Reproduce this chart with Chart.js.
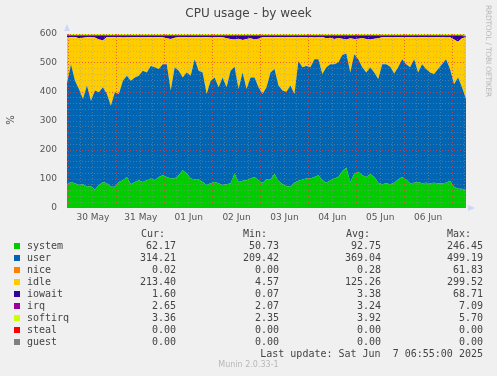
<!DOCTYPE html>
<html><head><meta charset="utf-8">
<script src="https://cdn.jsdelivr.net/npm/chart.js@4/dist/chart.umd.min.js"></script>
<style>
html,body{margin:0;padding:0;background:#f0f0f0;}
#wrap{position:relative;width:497px;height:376px;overflow:hidden;font-family:"DejaVu Sans",sans-serif;}
#box{position:absolute;left:0;top:0;width:497px;height:230px;}
.t{position:absolute;white-space:pre;line-height:12px;}
.m{font-family:"DejaVu Sans Mono",monospace;font-size:10px;color:#444;}
.r{text-align:right;}
.sq{position:absolute;width:6px;height:6px;}
</style></head>
<body><div id="wrap">
<div id="box"><canvas id="c"></canvas></div>
<div class="t" style="left:0;width:497px;top:6px;text-align:center;font-size:12px;line-height:14px;color:#444;">CPU usage - by week</div>
<div class="t" style="left:4px;top:114px;width:14px;text-align:center;font-size:10px;color:#555;transform:rotate(-90deg);">%</div>
<div class="t" style="left:438px;top:47px;width:100px;text-align:center;font-size:7.5px;line-height:8px;letter-spacing:-0.2px;color:#b8b8b8;transform:rotate(90deg);">RRDTOOL / TOBI OETIKER</div>
<div id="legend"></div>
</div>
<script>
// Series values, every 2 hours starting 29 May 23:00 (last = 7 Jun 07:00)
const system = [82,90,85,79,82,73,75,64,79,90,85,73,73,90,96,107,82,90,96,90,96,102,96,107,113,
  107,102,102,113,130,119,102,98,98,90,79,85,90,85,79,82,85,119,90,94,96,102,107,96,87,
  98,98,117,94,82,75,73,87,94,98,102,102,107,113,96,87,96,102,107,128,139,90,119,125,113,
  107,117,107,87,82,85,82,87,98,107,98,85,87,90,85,87,85,87,85,85,87,94,73,66,66,62];
const user = [348,406,354,331,294,349,295,341,320,326,308,280,326,303,343,349,357,360,360,383,371,388,389,372,383,
  389,303,383,360,320,348,354,415,375,377,314,354,360,331,371,334,388,368,320,373,314,348,343,320,306,
  318,369,362,328,323,326,349,306,413,387,388,383,406,400,366,398,400,394,395,400,394,377,411,388,372,
  360,368,360,358,414,411,405,377,387,406,398,400,426,377,411,392,382,375,394,411,426,385,354,384,350,314];
const idle = [160,93,151,175,211,167,220,183,182,162,197,236,191,197,149,133,151,140,133,117,123,99,105,111,93,
  89,178,102,117,140,122,134,77,117,122,197,149,140,174,139,169,110,94,174,112,173,135,131,168,196,
  174,123,110,168,185,189,167,197,83,104,100,105,75,76,128,100,91,87,84,56,48,118,53,71,101,
  116,96,117,140,93,94,103,125,105,77,94,104,77,123,93,111,123,128,110,94,75,110,154,123,169,213];
const iowait = [3,4,3,8,6,4,3,5,12,15,3,4,3,3,5,4,3,3,4,3,3,4,3,3,4,
  8,10,6,3,3,4,3,3,3,4,3,5,3,3,4,8,10,12,9,14,10,8,12,9,4,
  3,3,4,3,3,3,4,3,3,4,3,3,5,4,3,8,6,10,7,9,12,8,10,9,7,
  10,12,9,8,4,3,3,4,3,3,3,4,3,3,4,3,3,3,4,3,5,4,12,20,8,1.6];
const irq = [3,3,3,3,3,3,3,3,3,3,3,3,3,3,3,3,3,3,3,3,3,3,3,3,3,
  3,3,3,3,3,3,3,3,3,3,3,3,3,3,3,3,3,3,3,3,3,3,3,3,3,
  3,3,3,3,3,3,3,3,3,3,3,3,3,3,3,3,3,3,3,3,3,3,3,3,3,
  3,3,3,3,3,3,3,3,3,3,3,3,3,3,3,3,3,3,3,3,3,3,3,3,3,2.65];
const softirq = [4,4,4,4,4,4,4,4,4,4,4,4,4,4,4,4,4,4,4,4,4,4,4,4,4,
  4,4,4,4,4,4,4,4,4,4,4,4,4,4,4,4,4,4,4,4,4,4,4,4,4,
  4,4,4,4,4,4,4,4,4,4,4,4,4,4,4,4,4,4,4,4,4,4,4,4,4,
  4,4,4,4,4,4,4,4,4,4,4,4,4,4,4,4,4,4,4,4,4,4,4,4,4,3.36];
// Day labels (placed at noon of each day, hours since 30 May 00:00)
const dayLabels = ['30 May','31 May','01 Jun','02 Jun','03 Jun','04 Jun','05 Jun','06 Jun'];
const yTicks = [0,100,200,300,400,500,600];

// Legend table
const names  = ['system','user','nice','idle','iowait','irq','softirq','steal','guest'];
const colors = ['#00CC00','#0066B3','#FF8000','#FFCC00','#330099','#990099','#CCFF00','#FF0000','#808080'];
const curV = ['62.17','314.21','0.02','213.40','1.60','2.65','3.36','0.00','0.00'];
const minV = ['50.73','209.42','0.00','4.57','0.07','2.07','2.35','0.00','0.00'];
const avgV = ['92.75','369.04','0.28','125.26','3.38','3.24','3.92','0.00','0.00'];
const maxV = ['246.45','499.19','61.83','299.52','68.71','7.09','5.70','0.00','0.00'];

const times = system.map((_, i) => -1 + 2 * i);
const pts = arr => arr.map((v, i) => ({x: times[i], y: v}));

let html = '';
html += '<div class="t m" style="left:141px;top:228px;">Cur:</div>';
html += '<div class="t m" style="left:243px;top:228px;">Min:</div>';
html += '<div class="t m" style="left:346px;top:228px;">Avg:</div>';
html += '<div class="t m" style="left:447px;top:228px;">Max:</div>';
names.forEach((n, k) => {
  const top = 240 + 12 * k;
  html += `<div class="sq" style="left:14px;top:${top+3}px;background:${colors[k]}"></div>`;
  html += `<div class="t m" style="left:27px;top:${top}px;">${n}</div>`;
  html += `<div class="t m r" style="left:96px;width:80px;top:${top}px;">${curV[k]}</div>`;
  html += `<div class="t m r" style="left:199px;width:80px;top:${top}px;">${minV[k]}</div>`;
  html += `<div class="t m r" style="left:301px;width:80px;top:${top}px;">${avgV[k]}</div>`;
  html += `<div class="t m r" style="left:403px;width:80px;top:${top}px;">${maxV[k]}</div>`;
});
html += '<div class="t m r" style="left:183px;width:300px;top:348px;">Last update: Sat Jun  7 06:55:00 2025</div>';
html += '<div class="t" style="left:0;width:497px;top:360px;text-align:center;font-size:8px;line-height:10px;color:#b8b8b8;">Munin 2.0.33-1</div>';
document.getElementById('legend').innerHTML = html;

const mk = (label, data, color, fill) => ({
  label, data: pts(data), backgroundColor: color, borderColor: 'rgba(0,0,0,0)', borderWidth: 0,
  pointRadius: 0, tension: 0, fill
});

const arrows = {
  id: 'arrows',
  afterDraw(chart) {
    const {ctx, chartArea: a} = chart;
    ctx.save();
    ctx.fillStyle = '#CFD6F8';
    ctx.beginPath(); ctx.moveTo(a.left - 3, a.top - 3); ctx.lineTo(a.left + 3, a.top - 3); ctx.lineTo(a.left, a.top - 10); ctx.fill();
    ctx.beginPath(); ctx.moveTo(a.right + 2, a.bottom - 3); ctx.lineTo(a.right + 2, a.bottom + 3); ctx.lineTo(a.right + 9, a.bottom); ctx.fill();
    ctx.restore();
  }
};

new Chart(document.getElementById('c'), {
  type: 'line',
  data: { datasets: [
    mk('system', system, '#00CC00', 'origin'),
    mk('user', user, '#0066B3', '-1'),
    mk('idle', idle, '#FFCC00', '-1'),
    mk('iowait', iowait, '#330099', '-1'),
    mk('irq', irq, '#990099', '-1'),
    mk('softirq', softirq, '#CCFF00', '-1')
  ]},
  options: {
    responsive: true, maintainAspectRatio: false, animation: false,
    layout: { padding: { left: 0, right: 31, top: 34, bottom: 0 } },
    plugins: { legend: { display: false }, tooltip: { enabled: false }, title: { display: false } },
    elements: { line: { borderWidth: 0 } },
    scales: {
      x: {
        type: 'linear', min: -1, max: 199,
        afterFit: s => { s.height = 22; },
        grid: {
          z: 1, drawTicks: false, lineWidth: 1,
          color: c => (c.tick && c.tick.value % 24 === 0) ? 'rgba(230,60,60,0.75)' : 'rgba(150,150,150,0.45)'
        },
        border: { display: false, dash: [1, 2] },
        ticks: {
          stepSize: 6, includeBounds: false, autoSkip: false, maxRotation: 0, padding: 4,
          color: '#555', font: { family: 'DejaVu Sans', size: 9 },
          callback: v => (v % 24 === 12 && v >= 0) ? dayLabels[(v - 12) / 24] : ''
        }
      },
      y: {
        stacked: true, min: 0, max: 600,
        afterFit: s => { s.width = 67; },
        grid: {
          z: 1, drawTicks: false, lineWidth: 1,
          color: c => (c.tick && c.tick.value % 100 === 0 && c.tick.value > 0) ? 'rgba(230,60,60,0.75)' : (c.tick && c.tick.value === 0 ? 'rgba(0,0,0,0)' : 'rgba(150,150,150,0.45)')
        },
        border: { display: false, dash: [1, 2] },
        ticks: {
          stepSize: 20, autoSkip: false, padding: 10, color: '#555', font: { family: 'DejaVu Sans', size: 9 },
          callback: v => yTicks.includes(v) ? String(v) : ''
        }
      }
    }
  },
  plugins: [arrows]
});
</script>
</body></html>
